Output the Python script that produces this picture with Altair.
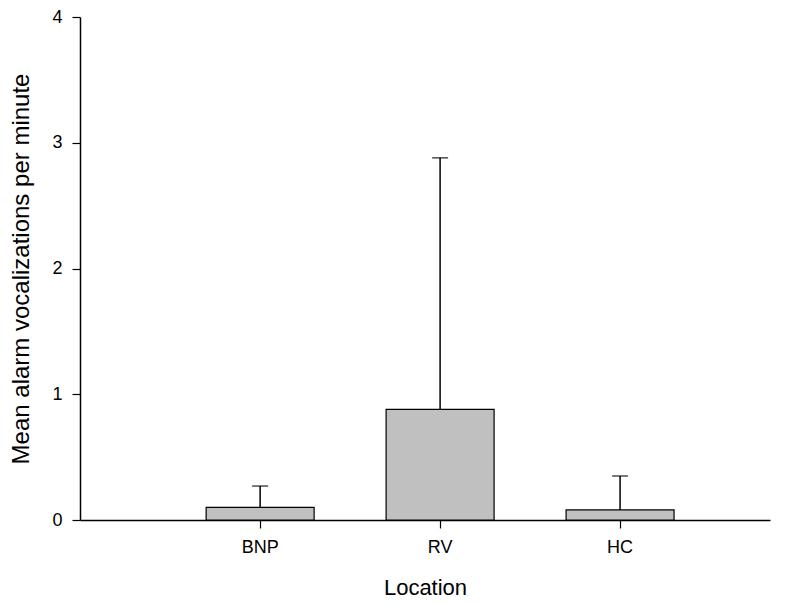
import altair as alt
import pandas as pd

locations = ["BNP", "RV", "HC"]
means = [0.10, 0.88, 0.08]
upper = [0.27, 2.88, 0.35]

df = pd.DataFrame({"Location": locations, "mean": means, "upper": upper})

FONT = "Liberation Sans"

xscale = alt.Scale(domain=locations, paddingInner=0.4, paddingOuter=0.617, align=0.568)
yscale = alt.Scale(domain=[0, 4], nice=False, zero=True)

xenc = alt.X("Location:N", scale=xscale, sort=locations,
             axis=alt.Axis(title="Location", labelAngle=0, tickSize=8, bandPosition=0.5,
                           labelPadding=10, titlePadding=21, labelFontSize=18,
                           titleFontSize=22, titleFontWeight="normal",
                           domainWidth=1.5, tickWidth=1.2, domainColor="black",
                           tickColor="black", labelColor="black", titleColor="black",
                           labelFont=FONT, titleFont=FONT))
yaxis = alt.Axis(title="Mean alarm vocalizations per minute", values=[0, 1, 2, 3, 4],
                 format="d", tickSize=8, labelPadding=10, titlePadding=18, labelFontSize=18,
                 titleFontSize=24, titleFontWeight="normal", grid=False,
                 domainWidth=1.5, tickWidth=1.2, domainColor="black",
                 tickColor="black", labelColor="black", titleColor="black",
                 labelFont=FONT, titleFont=FONT)

bars = alt.Chart(df).mark_bar(color="#c0c0c0", stroke="black", strokeWidth=1.2).encode(
    x=xenc,
    y=alt.Y("mean:Q", scale=yscale, axis=yaxis),
)

err = alt.Chart(df).mark_rule(color="black", strokeWidth=1.5).encode(
    x=alt.X("Location:N", scale=xscale, sort=locations),
    y=alt.Y("mean:Q", scale=yscale),
    y2="upper:Q",
)

caps = alt.Chart(df).mark_tick(color="black", size=16, thickness=1.5, orient="horizontal").encode(
    x=alt.X("Location:N", scale=xscale, sort=locations),
    y=alt.Y("upper:Q", scale=yscale),
)

chart = alt.layer(bars, err, caps).properties(
    width=690, height=503,
    autosize=alt.AutoSizeParams(type="none"),
    padding={"left": 72, "top": 9, "right": 8, "bottom": 80},
    background="white",
).configure_view(stroke=None)

chart.save("out.html", embed_options={"renderer": "svg", "actions": False})
